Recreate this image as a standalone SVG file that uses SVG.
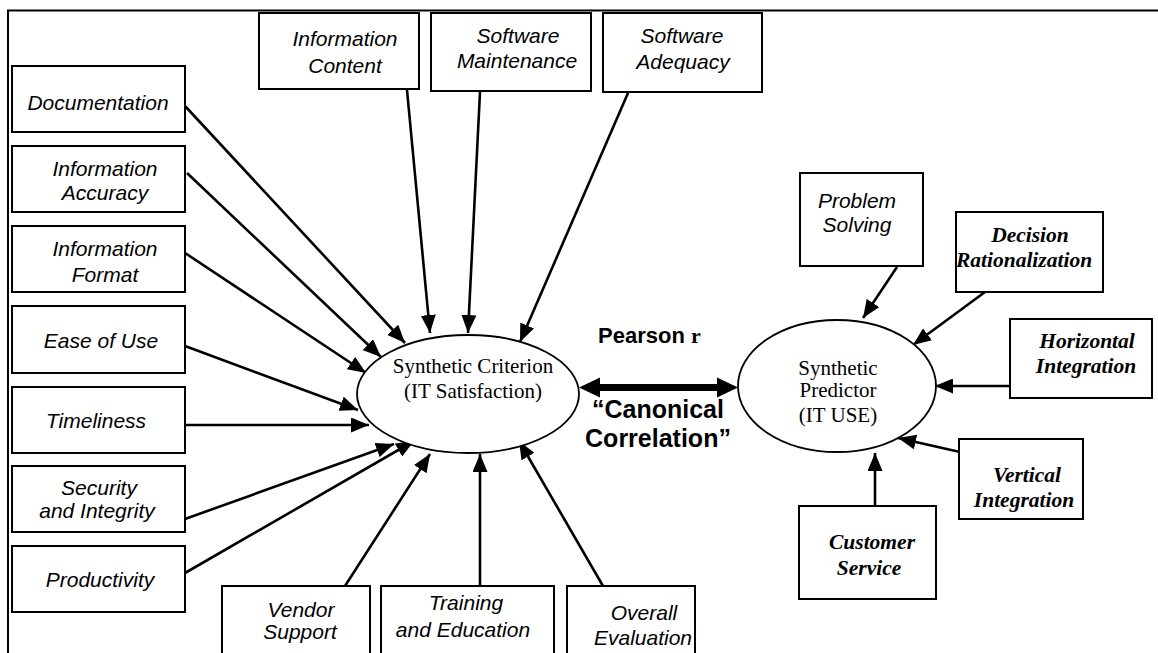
<svg xmlns="http://www.w3.org/2000/svg" width="1158" height="653" viewBox="0 0 1158 653">
  <style>
    .box { fill: #fff; stroke: #000; stroke-width: 2; }
    .oval { fill: #fff; stroke: #000; stroke-width: 1.8; }
    .sans { font-family: "Liberation Sans", Arial, sans-serif; font-style: italic; font-size: 21px; fill: #000; text-anchor: middle; }
    .serif { font-family: "Liberation Serif", "Times New Roman", serif; font-style: italic; font-weight: bold; font-size: 21.5px; fill: #000; text-anchor: middle; }
    .label { font-family: "Liberation Serif", "Times New Roman", serif; font-size: 21px; fill: #000; text-anchor: middle; }
    .bold { font-family: "Liberation Sans", Arial, sans-serif; font-weight: bold; fill: #000; }
    .conn line { stroke: #000; stroke-width: 2.6; marker-end: url(#head); }
  </style>
  <defs>
    <marker id="head" markerUnits="userSpaceOnUse" markerWidth="19" markerHeight="15" refX="18" refY="7.5" orient="auto">
      <path d="M0,0 L18,7.5 L0,15 z" fill="#000"/>
    </marker>
  </defs>

  <rect width="1158" height="653" fill="#fff"/>
  <!-- page frame -->
  <path d="M8,653 V10.5 H1158" fill="none" stroke="#000" stroke-width="2"/>

  <!-- connectors -->
  <g id="connectors" class="conn">
    <line x1="185" y1="106" x2="405" y2="343"/>
    <line x1="187" y1="173" x2="381" y2="357"/>
    <line x1="185" y1="253" x2="366" y2="373"/>
    <line x1="185" y1="346" x2="358" y2="410"/>
    <line x1="185" y1="425" x2="369" y2="425"/>
    <line x1="185" y1="519" x2="394" y2="444"/>
    <line x1="185" y1="573" x2="414" y2="441"/>
    <line x1="345" y1="586" x2="430" y2="454"/>
    <line x1="480" y1="586" x2="480" y2="454"/>
    <line x1="603" y1="586" x2="519" y2="441"/>
    <line x1="407" y1="90" x2="430" y2="333"/>
    <line x1="480" y1="92" x2="468" y2="333"/>
    <line x1="628" y1="93" x2="520" y2="342"/>
    <line x1="897" y1="267" x2="863" y2="318"/>
    <line x1="985" y1="292" x2="913" y2="345"/>
    <line x1="1009" y1="386" x2="935" y2="386"/>
    <line x1="960" y1="452" x2="898" y2="438"/>
    <line x1="875" y1="506" x2="875" y2="453"/>
    <!-- canonical correlation link -->
    <g id="pearson-link">
      <rect x="596" y="384" width="125" height="7" fill="#000"/>
      <polygon points="579,387.5 600,377.5 600,397.5" fill="#000"/>
      <polygon points="738,387.5 717,377.5 717,397.5" fill="#000"/>
    </g>
  </g>

  <!-- left column -->
  <g id="documentation">
    <rect class="box" x="12" y="66" width="173" height="66"/>
    <text class="sans" x="98" y="110">Documentation</text>
  </g>
  <g id="information-accuracy">
    <rect class="box" x="12" y="146" width="173" height="66"/>
    <text class="sans" x="105" y="176">Information</text>
    <text class="sans" x="105" y="200">Accuracy</text>
  </g>
  <g id="information-format">
    <rect class="box" x="12" y="226" width="173" height="66"/>
    <text class="sans" x="105" y="256">Information</text>
    <text class="sans" x="105" y="282">Format</text>
  </g>
  <g id="ease-of-use">
    <rect class="box" x="12" y="306" width="173" height="67"/>
    <text class="sans" x="101" y="348">Ease of Use</text>
  </g>
  <g id="timeliness">
    <rect class="box" x="12" y="387" width="173" height="66"/>
    <text class="sans" x="96" y="428">Timeliness</text>
  </g>
  <g id="security-integrity">
    <rect class="box" x="12" y="466" width="173" height="66"/>
    <text class="sans" x="99" y="495">Security</text>
    <text class="sans" x="97" y="518">and Integrity</text>
  </g>
  <g id="productivity">
    <rect class="box" x="12" y="546" width="173" height="66"/>
    <text class="sans" x="100" y="587">Productivity</text>
  </g>

  <!-- top row -->
  <g id="information-content">
    <rect class="box" x="259" y="13" width="160" height="76"/>
    <text class="sans" x="345" y="46">Information</text>
    <text class="sans" x="345" y="73">Content</text>
  </g>
  <g id="software-maintenance">
    <rect class="box" x="431" y="13" width="160" height="78"/>
    <text class="sans" x="518" y="43">Software</text>
    <text class="sans" x="517" y="68">Maintenance</text>
  </g>
  <g id="software-adequacy">
    <rect class="box" x="603" y="13" width="159" height="79"/>
    <text class="sans" x="682" y="43">Software</text>
    <text class="sans" x="683" y="69">Adequacy</text>
  </g>

  <!-- bottom row -->
  <g id="vendor-support">
    <rect class="box" x="222" y="586" width="148" height="80"/>
    <text class="sans" x="301" y="617">Vendor</text>
    <text class="sans" x="300" y="639">Support</text>
  </g>
  <g id="training-education">
    <rect class="box" x="381" y="586" width="173" height="80"/>
    <text class="sans" x="466" y="610">Training</text>
    <text class="sans" x="463" y="637">and Education</text>
  </g>
  <g id="overall-evaluation">
    <rect class="box" x="567" y="586" width="128" height="80"/>
    <text class="sans" x="644" y="620">Overall</text>
    <text class="sans" x="643" y="645">Evaluation</text>
  </g>

  <!-- criterion ellipse -->
  <g id="synthetic-criterion">
    <ellipse class="oval" cx="468" cy="394" rx="111" ry="59"/>
    <text class="label" x="473" y="373">Synthetic Criterion</text>
    <text class="label" x="473" y="398">(IT Satisfaction)</text>
  </g>

  <!-- correlation labels -->
  <g id="correlation-labels">
    <text class="bold" x="598" y="343" font-size="22">Pearson <tspan font-family="Liberation Serif, serif" font-weight="bold">r</tspan></text>
    <text class="bold" x="658" y="418" font-size="25" text-anchor="middle">“Canonical</text>
    <text class="bold" x="658" y="447" font-size="25" text-anchor="middle">Correlation”</text>
  </g>

  <!-- predictor ellipse -->
  <g id="synthetic-predictor">
    <ellipse class="oval" cx="837" cy="386" rx="99" ry="66"/>
    <text class="label" x="838" y="375">Synthetic</text>
    <text class="label" x="838" y="397">Predictor</text>
    <text class="label" x="838" y="422">(IT USE)</text>
  </g>

  <!-- right side -->
  <g id="problem-solving">
    <rect class="box" x="800" y="173" width="123" height="93"/>
    <text class="sans" x="857" y="208">Problem</text>
    <text class="sans" x="857" y="232">Solving</text>
  </g>
  <g id="decision-rationalization">
    <rect class="box" x="956" y="212" width="147" height="80"/>
    <text class="serif" x="1030" y="242">Decision</text>
    <text class="serif" x="1024" y="267">Rationalization</text>
  </g>
  <g id="horizontal-integration">
    <rect class="box" x="1010" y="319" width="142" height="79"/>
    <text class="serif" x="1087" y="348">Horizontal</text>
    <text class="serif" x="1086" y="373">Integration</text>
  </g>
  <g id="vertical-integration">
    <rect class="box" x="959" y="439" width="124" height="80"/>
    <text class="serif" x="1027" y="482">Vertical</text>
    <text class="serif" x="1024" y="507">Integration</text>
  </g>
  <g id="customer-service">
    <rect class="box" x="799" y="506" width="137" height="93"/>
    <text class="serif" x="872" y="549">Customer</text>
    <text class="serif" x="869" y="575">Service</text>
  </g>
</svg>
